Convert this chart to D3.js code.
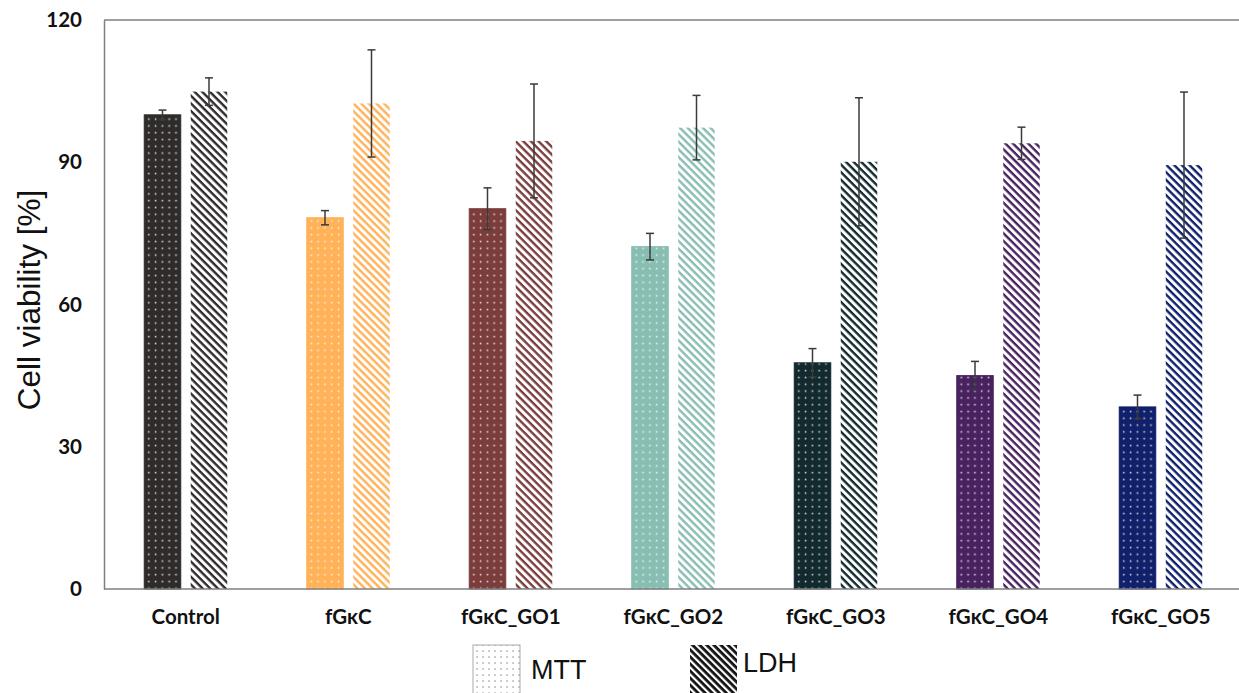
<!DOCTYPE html>
<html>
<head>
<meta charset="utf-8">
<script src="https://cdn.jsdelivr.net/npm/d3@7"></script>
<style>
  html, body { margin: 0; padding: 0; background: #fff; }
  svg { display: block; }
</style>
</head>
<body>
<svg id="chart" width="1239" height="693"></svg>
<script>
// Cell viability by sample, MTT vs LDH assay (mean ± SD)
const categories = ["Control", "fGκC", "fGκC_GO1", "fGκC_GO2", "fGκC_GO3", "fGκC_GO4", "fGκC_GO5"];
const series = ["MTT", "LDH"];
const mttValues = [100.0, 78.3, 80.2, 72.2, 47.7, 45.0, 38.4];
const mttErrors = [1.0, 1.5, 4.4, 2.8, 3.0, 3.0, 2.5];
const ldhValues = [104.9, 102.4, 94.5, 97.3, 90.1, 94.0, 89.4];
const ldhErrors = [2.9, 11.3, 12.0, 6.8, 13.5, 3.4, 15.4];
const yTicks = [0, 30, 60, 90, 120];
const colors = ["#2f2b2b", "#ffb257", "#7a3d3b", "#88beb2", "#12292d", "#48225f", "#10206a"];

const svg = d3.select("#chart");
const defs = svg.append("defs");

const plot = { left: 104, right: 1242, top: 20, bottom: 589 };

const x0 = d3.scaleBand().domain(categories).range([plot.left + 0.5, plot.right]).padding(0);
const x1 = d3.scaleBand().domain(series)
  .range([x0.bandwidth() / 2 - 41.5, x0.bandwidth() / 2 + 41.5])
  .paddingInner(0.215).paddingOuter(0);
const y = d3.scaleLinear().domain([0, 120]).range([plot.bottom, plot.top]);

// Fill patterns: dotted for MTT, diagonal hatch for LDH
colors.forEach((c, i) => {
  const dot = defs.append("pattern")
    .attr("id", "dots" + i)
    .attr("patternUnits", "userSpaceOnUse")
    .attr("width", 6.8).attr("height", 6.8);
  dot.append("rect").attr("width", 6.8).attr("height", 6.8).attr("fill", c);
  dot.append("rect").attr("x", 2.7).attr("y", 2.7).attr("width", 1.6).attr("height", 1.6)
    .attr("fill", "#ffffff").attr("opacity", 0.8);

  const hatch = defs.append("pattern")
    .attr("id", "hatch" + i)
    .attr("patternUnits", "userSpaceOnUse")
    .attr("width", 5.4).attr("height", 5.4)
    .attr("patternTransform", "rotate(45)");
  hatch.append("rect").attr("width", 5.4).attr("height", 5.4).attr("fill", "#ffffff");
  hatch.append("rect").attr("width", 5.4).attr("height", 2.4).attr("fill", c);
});

// Legend patterns
const legDot = defs.append("pattern")
  .attr("id", "legDots").attr("patternUnits", "userSpaceOnUse")
  .attr("width", 6).attr("height", 6);
legDot.append("rect").attr("width", 6).attr("height", 6).attr("fill", "#fff");
legDot.append("rect").attr("x", 2.4).attr("y", 2.4).attr("width", 1.3).attr("height", 1.3).attr("fill", "#888");

const legHatch = defs.append("pattern")
  .attr("id", "legHatch").attr("patternUnits", "userSpaceOnUse")
  .attr("width", 5).attr("height", 5)
  .attr("patternTransform", "rotate(45)");
legHatch.append("rect").attr("width", 5).attr("height", 5).attr("fill", "#fff");
legHatch.append("rect").attr("width", 5).attr("height", 2.8).attr("fill", "#111");

// Frame lines
const axisColor = "#7f7f7f";
svg.append("line").attr("x1", plot.left).attr("x2", 1239).attr("y1", plot.top).attr("y2", plot.top)
  .attr("stroke", axisColor).attr("stroke-width", 1.5);

// Bars
const rows = categories.map((c, i) => ({
  cat: c, i,
  bars: [
    { s: "MTT", v: mttValues[i], e: mttErrors[i] },
    { s: "LDH", v: ldhValues[i], e: ldhErrors[i] }
  ]
}));

const groups = svg.append("g").selectAll("g").data(rows).join("g")
  .attr("transform", d => `translate(${x0(d.cat)},0)`);

groups.selectAll("rect.bar").data(d => d.bars.map(b => ({ ...b, i: d.i }))).join("rect")
  .attr("class", "bar")
  .attr("x", b => x1(b.s))
  .attr("width", x1.bandwidth())
  .attr("y", b => y(b.v))
  .attr("height", b => y(0) - y(b.v))
  .attr("fill", b => b.s === "MTT" ? `url(#dots${b.i})` : `url(#hatch${b.i})`)
  .attr("stroke", b => b.s === "MTT" ? colors[b.i] : "none")
  .attr("stroke-width", 1);

// Error bars
const err = groups.selectAll("g.err").data(d => d.bars).join("g").attr("class", "err")
  .attr("stroke", "#3a3a3a").attr("stroke-width", 1.5);
err.append("line")
  .attr("x1", b => x1(b.s) + x1.bandwidth() / 2).attr("x2", b => x1(b.s) + x1.bandwidth() / 2)
  .attr("y1", b => y(b.v + b.e)).attr("y2", b => y(b.v - b.e));
["+", "-"].forEach(sign => {
  err.append("line")
    .attr("x1", b => x1(b.s) + x1.bandwidth() / 2 - 4).attr("x2", b => x1(b.s) + x1.bandwidth() / 2 + 4)
    .attr("y1", b => y(sign === "+" ? b.v + b.e : b.v - b.e))
    .attr("y2", b => y(sign === "+" ? b.v + b.e : b.v - b.e));
});

// Y axis
const yAxis = svg.append("g").attr("transform", `translate(${plot.left},0)`)
  .call(d3.axisLeft(y).tickValues(yTicks).tickSize(0).tickPadding(22).tickFormat(d3.format("d")));
yAxis.select(".domain").attr("stroke", axisColor).attr("stroke-width", 1.5);
yAxis.selectAll("text").attr("font-family", "Lato, 'Open Sans', sans-serif")
  .attr("font-weight", "bold").attr("font-size", 20.5).attr("fill", "#111");

// X axis
const xAxis = svg.append("g").attr("transform", `translate(0,${plot.bottom})`)
  .call(d3.axisBottom(x0).tickSize(0).tickPadding(20));
xAxis.select(".domain").attr("d", `M${plot.left},0H1239`).attr("stroke", axisColor).attr("stroke-width", 1.5);
xAxis.selectAll("text").attr("font-family", "Lato, 'Open Sans', sans-serif")
  .attr("font-weight", "bold").attr("font-size", 20.5).attr("fill", "#111");

// Y axis title
svg.append("text")
  .attr("transform", `translate(40,300) rotate(-90)`)
  .attr("text-anchor", "middle")
  .attr("font-family", "'Liberation Sans', Arial, sans-serif")
  .attr("font-size", 31.5).attr("fill", "#111")
  .text("Cell viability [%]");

// Legend
const legend = [
  { s: "MTT", fill: "url(#legDots)", stroke: "#aaa", x: 473, tx: 531, ty: 679 },
  { s: "LDH", fill: "url(#legHatch)", stroke: "none", x: 690, tx: 743, ty: 672 }
];
const lg = svg.append("g").selectAll("g").data(legend).join("g");
lg.append("rect").attr("x", d => d.x).attr("y", 645).attr("width", 47).attr("height", 60)
  .attr("fill", d => d.fill).attr("stroke", d => d.stroke).attr("stroke-width", 1);
lg.append("text").attr("x", d => d.tx).attr("y", d => d.ty)
  .attr("font-family", "'Liberation Sans', Arial, sans-serif").attr("font-size", 27).attr("fill", "#111")
  .text(d => d.s);
</script>
</body>
</html>
